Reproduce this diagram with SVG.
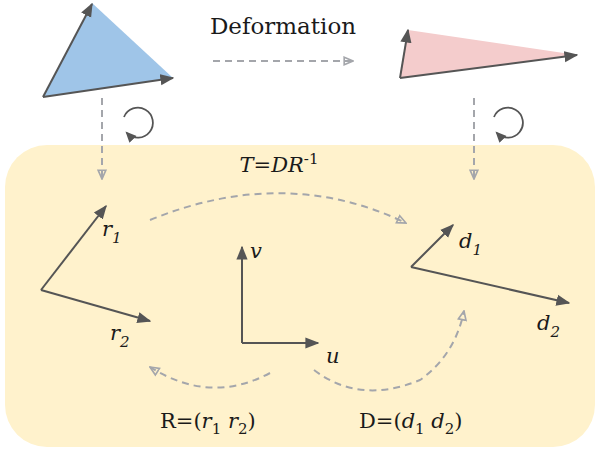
<svg xmlns="http://www.w3.org/2000/svg" width="596" height="450" viewBox="0 0 596 450">
<defs>
<marker id="ahs" viewBox="0 0 10 10" refX="9" refY="5" markerWidth="14" markerHeight="14" orient="auto" markerUnits="userSpaceOnUse">
<path d="M0,1 L10,5 L0,9 z" fill="#555"/>
</marker>
<marker id="ahr" viewBox="0 0 10 10" refX="8" refY="5" markerWidth="11" markerHeight="11" orient="auto" markerUnits="userSpaceOnUse">
<path d="M0,0.5 L10,5 L0,9.5 z" fill="#555"/>
</marker>
<marker id="oh" viewBox="0 0 10 10" refX="9" refY="5" markerWidth="11" markerHeight="11" orient="auto" markerUnits="userSpaceOnUse">
<path d="M1,1.5 L9,5 L1,8.5 z" fill="none" stroke="#a4a6ab" stroke-width="1.5"/>
</marker>
</defs>
<style>
.vec{stroke:#555;stroke-width:2;fill:none;marker-end:url(#ahs)}
.rot{stroke:#555;stroke-width:1.8;fill:none;marker-end:url(#ahr)}
.dash{stroke:#a4a6ab;stroke-width:2;fill:none;stroke-dasharray:7,5;marker-end:url(#oh)}
.lbl{font-family:"DejaVu Serif","Liberation Serif",serif;font-size:21px;fill:#1a1a1a}
.it{font-style:italic}
.sub{font-size:15px}
</style>
<rect x="5" y="145" width="590" height="302" rx="42" fill="#fff2cc"/>
<g id="tri-blue">
<polygon points="43,97 92,3 173,78" fill="#9fc5e8"/>
<line x1="43" y1="97" x2="92" y2="4" class="vec"/>
<line x1="43" y1="97" x2="173" y2="78" class="vec"/>
</g>
<g id="tri-pink">
<polygon points="400,78 408,30 577,55" fill="#f4cccc"/>
<line x1="400" y1="78" x2="408" y2="30" class="vec"/>
<line x1="400" y1="78" x2="577" y2="55" class="vec"/>
</g>
<g id="label-deformation"><text x="283" y="34" text-anchor="middle" class="lbl" style="font-size:23px">Deformation</text></g>
<g id="rot1"><path d="M124,117 A15,15 0 1 1 127,133" class="rot"/></g>
<g id="rot2"><path d="M494,117 A15,15 0 1 1 497,133" class="rot"/></g>
<g id="r-frame">
<line x1="41" y1="290" x2="106" y2="206" class="vec"/>
<line x1="41" y1="290" x2="150" y2="321" class="vec"/>
<text x="102" y="236" class="lbl it">r<tspan class="sub" dy="7">1</tspan></text>
<text x="110" y="340" class="lbl it">r<tspan class="sub" dy="7">2</tspan></text>
</g>
<g id="uv-frame">
<line x1="242" y1="343" x2="242" y2="247" class="vec"/>
<line x1="242" y1="343" x2="318" y2="343" class="vec"/>
<text x="250" y="258" class="lbl it">v</text>
<text x="326" y="363" class="lbl it">u</text>
</g>
<g id="d-frame">
<line x1="411" y1="267" x2="453" y2="225" class="vec"/>
<line x1="411" y1="267" x2="569" y2="303" class="vec"/>
<text x="459" y="248" class="lbl it">d<tspan class="sub" dy="7">1</tspan></text>
<text x="537" y="330" class="lbl it">d<tspan class="sub" dy="7">2</tspan></text>
</g>
<g id="labels">
<text x="279" y="172" text-anchor="middle" class="lbl"><tspan class="it">T</tspan>=<tspan class="it">DR</tspan><tspan class="sub" dy="-8">-1</tspan></text>
<text x="160" y="428" class="lbl">R=(<tspan class="it">r</tspan><tspan class="sub" dy="6">1</tspan><tspan dy="-6"> </tspan><tspan class="it">r</tspan><tspan class="sub" dy="6">2</tspan><tspan dy="-6">)</tspan></text>
<text x="359" y="428" class="lbl">D=(<tspan class="it">d</tspan><tspan class="sub" dy="6">1</tspan><tspan dy="-6"> </tspan><tspan class="it">d</tspan><tspan class="sub" dy="6">2</tspan><tspan dy="-6">)</tspan></text>
</g>
<g id="connectors">
<line x1="213" y1="61" x2="353" y2="61" class="dash"/>
<line x1="102" y1="98" x2="102" y2="179" class="dash"/>
<line x1="474" y1="98" x2="474" y2="179" class="dash"/>
<path d="M150,220 Q285,165 406,223" class="dash"/>
<path d="M270,373 Q210,405 150,367" class="dash"/>
<path d="M314,370 Q360,405 420,380 Q455,355 464,311" class="dash"/>
</g>
</svg>
